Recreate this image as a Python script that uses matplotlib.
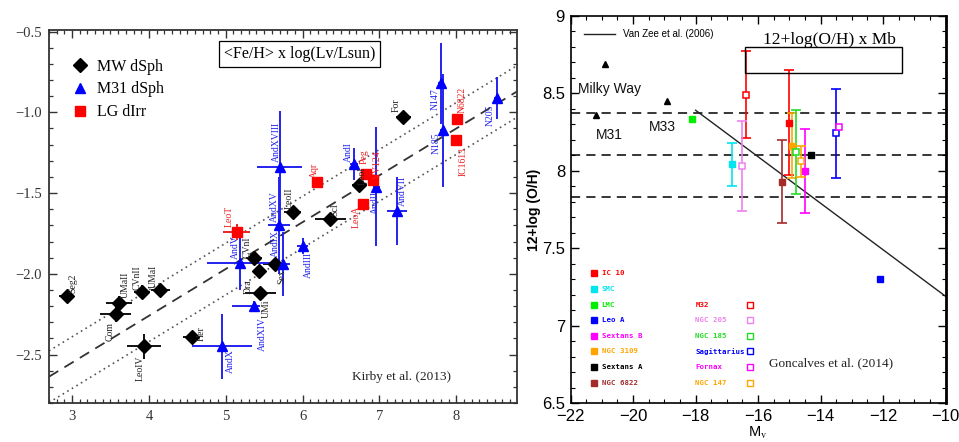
import numpy as np
import matplotlib
matplotlib.use("Agg")
import matplotlib.pyplot as plt
from matplotlib.ticker import MultipleLocator, FuncFormatter
from matplotlib.patches import Rectangle

plt.rcParams['font.family'] = ['Liberation Sans', 'DejaVu Sans']
plt.rcParams['mathtext.fontset'] = 'stix'
SERIF = 'Liberation Serif'

# ---- left panel : <Fe/H> vs log(Lv/Lsun), Kirby et al. (2013)
mw_names = ["Seg2", "UMaII", "Com", "CVnII", "UMaI", "LeoIV", "Her", "CVnI",
            "Dra", "UMi", "Sex", "LeoII", "Scl", "LeoI", "For"]
mw_logl = [2.93, 3.61, 3.57, 3.91, 4.15, 3.94, 4.56, 5.37, 5.43, 5.45, 5.64, 5.87, 6.36, 6.74, 7.31]
mw_feh = [-2.14, -2.18, -2.25, -2.11, -2.10, -2.45, -2.39, -1.90, -1.98, -2.12, -1.94, -1.62, -1.66, -1.45, -1.03]
mw_xerr = [0.10, 0.17, 0.20, 0.11, 0.12, 0.22, 0.11, 0.10, 0.07, 0.20, 0.15, 0.11, 0.20, 0.10, 0.10]
mw_yerr = [0.04, 0.04, 0.05, 0.04, 0.03, 0.08, 0.03, 0.03, 0.02, 0.03, 0.03, 0.03, 0.03, 0.03, 0.02]

m31_names = ["AndXVIII", "AndXV", "AndV", "AndIX", "AndIII", "AndXIV", "AndX",
             "AndI", "AndII", "AndVII", "N147", "N185", "N205"]
m31_logl = [5.70, 5.69, 5.19, 5.75, 6.00, 5.37, 4.95, 6.67, 6.96, 7.23, 7.80, 7.83, 8.53]
m31_feh = [-1.34, -1.70, -1.93, -1.94, -1.83, -2.20, -2.45, -1.32, -1.46, -1.61, -0.82, -1.11, -0.91]
m31_xerr_lo = [0.29, 0.14, 0.44, 0.09, 0.07, 0.29, 0.39, 0.05, 0.05, 0.13, 0.04, 0.04, 0.04]
m31_xerr_hi = [0.29, 0.14, 0.44, 0.09, 0.07, 0.08, 0.39, 0.05, 0.05, 0.13, 0.04, 0.04, 0.04]
m31_yerr = [0.35, 0.30, 0.17, 0.20, 0.05, 0.03, 0.20, 0.10, 0.37, 0.21, 0.25, 0.35, 0.13]

dirr_names = ["LeoT", "Aqr", "Peg", "VV124", "LeoA", "N6822", "IC1613"]
dirr_logl = [5.14, 6.19, 6.82, 6.92, 6.78, 8.01, 8.00]
dirr_feh = [-1.74, -1.43, -1.38, -1.42, -1.57, -1.04, -1.17]
dirr_xerr = [0.18, 0.03, 0.03, 0.03, 0.03, 0.03, 0.03]
dirr_yerr = [0.05, 0.02, 0.02, 0.02, 0.02, 0.02, 0.02]

# mass-metallicity fit: <[Fe/H]> = a + b*(log L - 6), scatter rms
fit_a, fit_b, fit_rms = -1.68, 0.29, 0.16

# label offsets in pixels (dx, dy, vertical alignment)
mw_lab = [(6, 3, 'bottom'), (6, 5, 'bottom'), (-6, -8, 'top'), (-5, 2, 'bottom'), (-7, 2, 'bottom'),
          (-4, -9, 'top'), (9, -4, 'bottom'), (-7, 0, 'bottom'), (-11, -9, 'top'), (6, -6, 'top'),
          (7, -5, 'top'), (-3, 3, 'bottom'), (5, 3, 'bottom'), (3, 0, 'bottom'), (-7, 5, 'bottom')]
m31_lab = [(-3, 5, 'bottom'), (-4, 3, 'bottom'), (-5, 4, 'bottom'), (-8, 7, 'bottom'), (6, -6, 'top'),
           (8, -11, 'top'), (8, -3, 'top'), (-6, 2, 'bottom'), (-1, -4, 'top'), (5, 5, 'bottom'),
           (-6, -5, 'top'), (-7, -2, 'top'), (-7, -7, 'top')]
dirr_lab = [(-7, 5, 'bottom'), (-3, 4, 'bottom'), (-1, 10, 'bottom'), (4, 1, 'bottom'),
            (-6, -1, 'top'), (5, 6, 'bottom'), (7, -7, 'top')]

# ---- right panel : 12+log(O/H) vs Mv, Goncalves et al. (2014)
fill_names = ["IC 10", "SMC", "LMC", "Leo A", "Sextans B", "NGC 3109", "Sextans A", "NGC 6822"]
fill_colors = ["#ff0000", "#00e5ee", "#00ee00", "#0000ff", "#ff00ff", "#ffa500", "#000000", "#a52a2a"]
fill_mv = [-15.01, -16.82, -18.10, -12.10, -14.50, -14.91, -14.32, -15.22]
fill_oh = [8.31, 8.04, 8.335, 7.30, 8.00, 8.16, 8.10, 7.93]
fill_err = [0.34, 0.14, 0.0, 0.0, 0.27, 0.21, 0.0, 0.27]

open_names = ["M32", "NGC 205", "NGC 185", "Sagittarius", "Fornax", "NGC 147"]
open_colors = ["#ff0000", "#ee82ee", "#22dd22", "#0000ff", "#ff00ff", "#ffa500"]
open_mv = [-16.40, -16.51, -14.80, -13.50, -13.40, -14.62]
open_oh = [8.49, 8.03, 8.12, 8.24, 8.28, 8.06]
open_err = [0.28, 0.29, 0.27, 0.29, 0.0, 0.10]

big_names = ["Milky Way", "M31", "M33"]
big_mv = [-20.90, -21.20, -18.91]
big_oh = [8.69, 8.36, 8.45]
big_lab = [(-27, -25), (0, -20), (-18, -26)]

vz_mv = [-18.0, -10.0]
vz_oh = [8.39, 7.19]
ref_oh = [8.37, 8.10, 7.83]

fig = plt.figure(figsize=(9.59, 4.42), dpi=100)

# ================= left panel
ax1 = fig.add_axes([0.0511, 0.0882, 0.488, 0.844])
ax1.set_xlim(2.7, 8.79)
ax1.set_ylim(-2.8, -0.49)

xs = np.array(ax1.get_xlim())
ys = fit_a + fit_b * (xs - 6)
ax1.plot(xs, ys, color='#333333', lw=1.3, ls=(0, (6, 4)), zorder=1)
ax1.plot(xs, ys + fit_rms, color='#555555', lw=1.2, ls=(0, (1, 2.2)), zorder=1)
ax1.plot(xs, ys - fit_rms, color='#555555', lw=1.2, ls=(0, (1, 2.2)), zorder=1)

ax1.errorbar(mw_logl, mw_feh, xerr=mw_xerr, yerr=mw_yerr, fmt='none', ecolor='#111111', elinewidth=1.4, zorder=2)
ax1.errorbar(m31_logl, m31_feh, xerr=[m31_xerr_lo, m31_xerr_hi], yerr=m31_yerr, fmt='none',
             ecolor='#2222ee', elinewidth=1.4, zorder=2)
ax1.errorbar(dirr_logl, dirr_feh, xerr=dirr_xerr, yerr=dirr_yerr, fmt='none', ecolor='#ee2222', elinewidth=1.4, zorder=2)

ax1.plot(mw_logl, mw_feh, 'D', color='black', ms=7, ls='none', label='MW dSph', zorder=3)
ax1.plot(m31_logl, m31_feh, '^', color='#0000ff', ms=7, ls='none', label='M31 dSph', zorder=3)
ax1.plot(dirr_logl, dirr_feh, 's', color='#ff0000', ms=6.5, ls='none', label='LG dIrr', zorder=3)

for names, xv, yv, offs, col in [(mw_names, mw_logl, mw_feh, mw_lab, '#222222'),
                                  (m31_names, m31_logl, m31_feh, m31_lab, '#2222ee'),
                                  (dirr_names, dirr_logl, dirr_feh, dirr_lab, '#ee2222')]:
    for n, x, y, (dx, dy, va) in zip(names, xv, yv, offs):
        ax1.annotate(n, (x, y), xytext=(dx, dy), textcoords='offset pixels', rotation=90,
                     ha='center', va=va, fontsize=7, color=col, family=SERIF, zorder=4)

leg1 = ax1.legend(loc='upper left', bbox_to_anchor=(0.035, 0.94), frameon=False, handlelength=1.0,
                  handletextpad=0.6, labelspacing=0.42, borderaxespad=0, prop={'family': SERIF, 'size': 11.5})

ax1.text(0.536, 0.936, '<Fe/H> x log(Lv/Lsun)', transform=ax1.transAxes, ha='center', va='center',
         family=SERIF, fontsize=11.5,
         bbox=dict(boxstyle='square,pad=0.3', fc='white', ec='black', lw=0.9))
ax1.text(0.753, 0.07, 'Kirby et al. (2013)', transform=ax1.transAxes, ha='center', va='center',
         family=SERIF, fontsize=9.5, color='#222222')

ax1.xaxis.set_major_locator(MultipleLocator(1))
ax1.xaxis.set_minor_locator(MultipleLocator(0.1))
ax1.yaxis.set_major_locator(MultipleLocator(0.5))
ax1.yaxis.set_minor_locator(MultipleLocator(0.1))
ax1.tick_params(which='both', direction='in', top=True, right=True, colors='#333333')
ax1.tick_params(which='major', length=6, width=1.0, labelsize=10.5, pad=5)
ax1.tick_params(which='minor', length=3, width=0.9)
for lab in ax1.get_xticklabels() + ax1.get_yticklabels():
    lab.set_family(SERIF)
for sp in ax1.spines.values():
    sp.set_linewidth(1.3)
    sp.set_color('#333333')

# ================= right panel
ax2 = fig.add_axes([0.595, 0.0876, 0.391, 0.877])
ax2.set_xlim(-22, -10)
ax2.set_ylim(6.5, 9)

for h in ref_oh:
    ax2.axhline(h, color='black', lw=1.1, ls=(0, (6, 4)), zorder=1)
vz_line, = ax2.plot(vz_mv, vz_oh, color='#222222', lw=1.0, zorder=2, label='Van Zee et al. (2006)')

for x, y, e, c in zip(fill_mv, fill_oh, fill_err, fill_colors):
    if e > 0:
        ax2.errorbar(x, y, yerr=e, fmt='none', ecolor=c, elinewidth=1.2, capsize=3.5, capthick=1.2, zorder=3)
    ax2.plot(x, y, 's', color=c, ms=5, zorder=4)
for x, y, e, c in zip(open_mv, open_oh, open_err, open_colors):
    if e > 0:
        ax2.errorbar(x, y, yerr=e, fmt='none', ecolor=c, elinewidth=1.2, capsize=3.5, capthick=1.2, zorder=3)
    ax2.plot(x, y, 's', mfc='white', mec=c, mew=1.1, ms=5, zorder=4)

ax2.plot(big_mv, big_oh, '^', color='black', ms=4.5, ls='none', zorder=4)
for n, x, y, (dx, dy) in zip(big_names, big_mv, big_oh, big_lab):
    ax2.annotate(n, (x, y), xytext=(dx, dy), textcoords='offset pixels', ha='left', va='center',
                 fontsize=10, color='#111111')

# little legend for the Van Zee relation
leg2 = ax2.legend(handles=[vz_line], loc='upper left', bbox_to_anchor=(0.025, 0.975), frameon=False,
                  handlelength=3.2, handletextpad=0.8, borderaxespad=0, fontsize=7)

# galaxy key (two columns)
row0, drow = 0.335, 0.0402
mono = dict(family='DejaVu Sans Mono', fontsize=5.3, fontweight='bold', va='center')
for i, (n, c) in enumerate(zip(fill_names, fill_colors)):
    yy = row0 - i * drow
    ax2.plot(0.063, yy, 's', color=c, ms=4.5, transform=ax2.transAxes, clip_on=False)
    ax2.text(0.083, yy, n, color=c, transform=ax2.transAxes, ha='left', **mono)
for i, (n, c) in enumerate(zip(open_names, open_colors)):
    yy = row0 - (i + 2) * drow
    ax2.text(0.333, yy, n, color=c, transform=ax2.transAxes, ha='left', **mono)
    ax2.plot(0.478, yy, 's', mfc='white', mec=c, mew=1.0, ms=4.5, transform=ax2.transAxes, clip_on=False)

ax2.text(0.691, 0.937, '12+log(O/H) x Mb', transform=ax2.transAxes, ha='center', va='center',
         family=SERIF, fontsize=12.5, zorder=6)
ax2.add_patch(Rectangle((0.466, 0.851), 0.417, 0.069, transform=ax2.transAxes, fill=False,
                        ec='black', lw=1.0, zorder=5))
ax2.text(0.6955, 0.103, 'Goncalves et al. (2014)', transform=ax2.transAxes, ha='center', va='center',
         family=SERIF, fontsize=9.5, color='#222222')

ax2.xaxis.set_major_locator(MultipleLocator(2))
ax2.xaxis.set_minor_locator(MultipleLocator(0.5))
ax2.yaxis.set_major_locator(MultipleLocator(0.5))
ax2.yaxis.set_minor_locator(MultipleLocator(0.1))
fmt = FuncFormatter(lambda v, p: ('%g' % v).replace('-', '\u2212'))
ax2.xaxis.set_major_formatter(fmt)
ax2.yaxis.set_major_formatter(fmt)
ax2.tick_params(which='both', direction='in', top=True, right=True)
ax2.tick_params(which='major', length=6, width=1.0, labelsize=12, pad=4)
ax2.tick_params(which='minor', length=3, width=0.8)
for sp in ax2.spines.values():
    sp.set_linewidth(1.2)
ax2.spines['right'].set_linewidth(2.0)

ax2.set_ylabel('12+log (O/H)', fontsize=10, fontweight='bold')
ax2.yaxis.set_label_coords(-0.08, 0.5)
ax2.set_xlabel('M$_\\mathrm{v}$', fontsize=10.5)
ax2.xaxis.set_label_coords(0.5, -0.057)

fig.savefig('out.png', dpi=100)
